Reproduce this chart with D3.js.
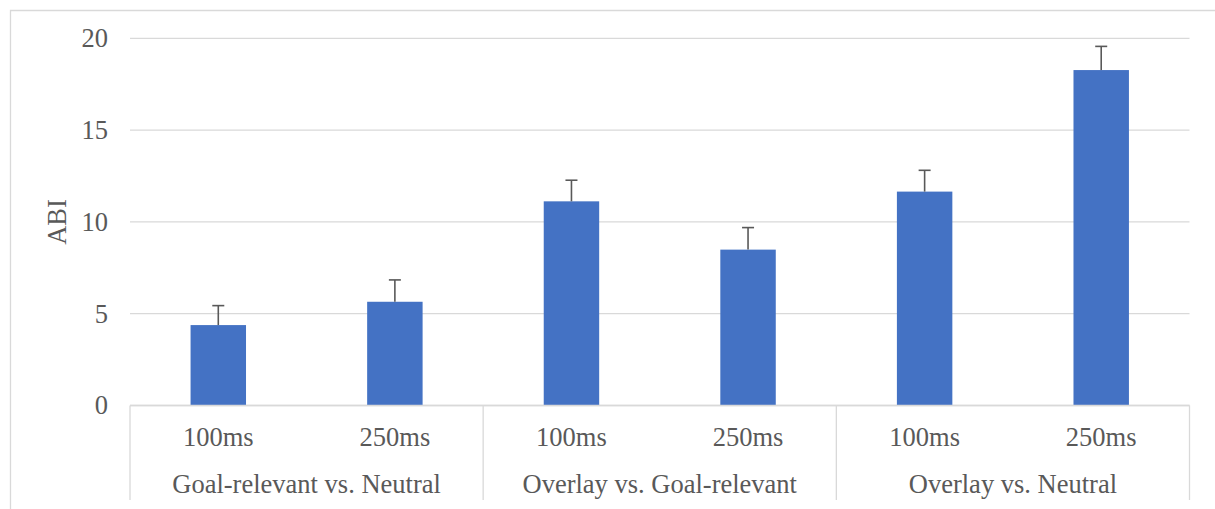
<!DOCTYPE html>
<html>
<head>
<meta charset="utf-8">
<script src="https://cdn.jsdelivr.net/npm/d3@7/dist/d3.min.js"></script>
<style>
  html, body { margin: 0; padding: 0; background: #fff; }
  svg { display: block; }
  text { font-family: "Liberation Serif", "Times New Roman", serif; fill: #595959; }
</style>
</head>
<body>
<svg id="chart" width="1215" height="509"></svg>
<script>
const groups = ["Goal-relevant vs. Neutral", "Overlay vs. Goal-relevant", "Overlay vs. Neutral"];
const durations = ["100ms", "250ms"];
const values = [4.38, 5.65, 11.12, 8.49, 11.65, 18.27];
const errors = [1.06, 1.19, 1.15, 1.20, 1.16, 1.29];
const yTicks = [0, 5, 10, 15, 20];

const rows = [];
groups.forEach((g, gi) => durations.forEach((d, di) => {
  const i = gi * durations.length + di;
  rows.push({ key: g + "|" + d, group: g, dur: d, value: values[i], err: errors[i] });
}));

const svg = d3.select("#chart");
const plotLeft = 130, plotRight = 1189.5, plotTop = 38.3, plotBottom = 405.5;
const fs = 26.5;

// outer chart border
svg.append("path")
  .attr("d", "M10.5,509 L10.5,10.5 L1215,10.5")
  .attr("fill", "none").attr("stroke", "#d9d9d9").attr("stroke-width", 1.3);

const x = d3.scaleBand().domain(rows.map(r => r.key)).range([plotLeft, plotRight]).paddingInner(0.686).paddingOuter(0.343);
const y = d3.scaleLinear().domain([0, 20]).range([plotBottom, plotTop]);

// gridlines
svg.append("g").selectAll("line").data(yTicks).join("line")
  .attr("x1", plotLeft).attr("x2", plotRight)
  .attr("y1", d => y(d)).attr("y2", d => y(d))
  .attr("stroke", "#d9d9d9").attr("stroke-width", 1.3);

// y axis labels
const yAxis = d3.axisLeft(y).tickValues(yTicks).tickSize(0).tickPadding(0);
const yg = svg.append("g").attr("transform", `translate(108,0)`).call(yAxis);
yg.select(".domain").remove();
yg.selectAll("text").attr("font-size", fs).attr("fill", "#595959")
  .style("font-family", '"Liberation Serif", serif');

// y axis title
svg.append("text").attr("transform", "translate(66,222) rotate(-90)")
  .attr("text-anchor", "middle").attr("font-size", fs).text("ABI");

// bars
svg.append("g").selectAll("rect").data(rows).join("rect")
  .attr("x", d => x(d.key)).attr("width", x.bandwidth())
  .attr("y", d => y(d.value)).attr("height", d => y(0) - y(d.value))
  .attr("fill", "#4472C4");

// error bars
const eb = svg.append("g").attr("stroke", "#595959").attr("stroke-width", 1.6);
rows.forEach(d => {
  const cx = x(d.key) + x.bandwidth() / 2;
  eb.append("line").attr("x1", cx).attr("x2", cx).attr("y1", y(d.value)).attr("y2", y(d.value + d.err));
  eb.append("line").attr("x1", cx - 6).attr("x2", cx + 6).attr("y1", y(d.value + d.err)).attr("y2", y(d.value + d.err));
});

// axis baseline
svg.append("line").attr("x1", plotLeft).attr("x2", plotRight).attr("y1", plotBottom).attr("y2", plotBottom)
  .attr("stroke", "#d9d9d9").attr("stroke-width", 1.3);

// group separators
const step = x.step();
const sepX = [0, 1, 2, 3].map(i => plotLeft + i * durations.length * step);
svg.append("g").selectAll("line").data(sepX).join("line")
  .attr("x1", d => d).attr("x2", d => d).attr("y1", plotBottom).attr("y2", 500)
  .attr("stroke", "#d9d9d9").attr("stroke-width", 1.3);

// duration labels
svg.append("g").selectAll("text").data(rows).join("text")
  .attr("x", d => x(d.key) + x.bandwidth() / 2).attr("y", 446)
  .attr("text-anchor", "middle").attr("font-size", fs).text(d => d.dur);

// group labels
svg.append("g").selectAll("text").data(groups).join("text")
  .attr("x", (d, i) => (sepX[i] + sepX[i + 1]) / 2).attr("y", 493)
  .attr("text-anchor", "middle").attr("font-size", fs).text(d => d);
</script>
</body>
</html>
